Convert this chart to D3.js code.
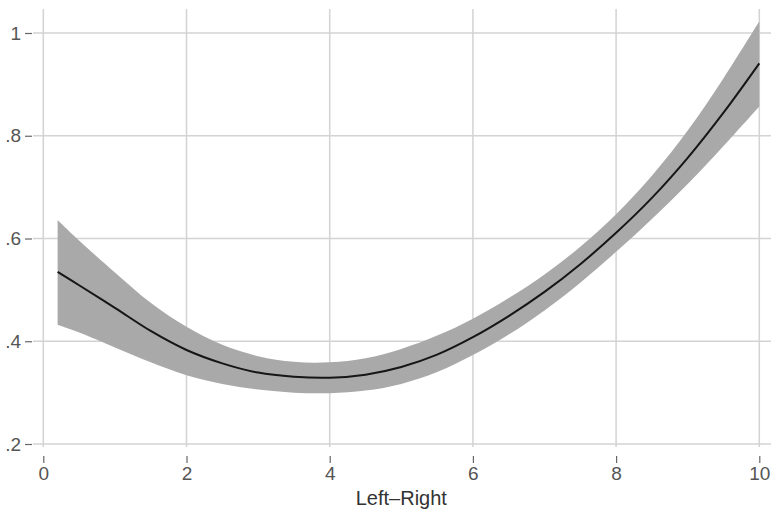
<!DOCTYPE html>
<html>
<head>
<meta charset="utf-8">
<script src="https://cdn.jsdelivr.net/npm/d3@7"></script>
<style>
  body { margin: 0; background: #fff; }
  svg { display: block; font-family: "Liberation Sans", Arial, sans-serif; }
  .tick text { fill: #555; }
</style>
</head>
<body>
<svg id="chart" width="771" height="510"></svg>
<script>
// values
var xs    = [0.2, 0.5, 1, 1.5, 2, 2.5, 3, 3.5, 4, 4.5, 5, 5.5, 6, 6.5, 7, 7.5, 8, 8.5, 9, 9.5, 10];
var fit   = [0.535, 0.509, 0.465, 0.420, 0.383, 0.357, 0.339, 0.331, 0.329, 0.335, 0.350, 0.374, 0.408, 0.449, 0.496, 0.550, 0.611, 0.679, 0.757, 0.845, 0.941];
var upper = [0.636, 0.596, 0.534, 0.475, 0.428, 0.393, 0.371, 0.360, 0.359, 0.367, 0.385, 0.411, 0.444, 0.484, 0.530, 0.584, 0.647, 0.722, 0.810, 0.912, 1.023];
var lower = [0.432, 0.417, 0.388, 0.359, 0.334, 0.317, 0.306, 0.300, 0.299, 0.304, 0.317, 0.340, 0.373, 0.413, 0.460, 0.514, 0.574, 0.638, 0.706, 0.780, 0.857];
var xTicks = [0, 2, 4, 6, 8, 10];
var yTicks = [0.2, 0.4, 0.6, 0.8, 1];
var yTickLabels = [".2", ".4", ".6", ".8", "1"];
var xTitle = "Left\u2013Right";

var svg = d3.select("#chart");

var x = d3.scaleLinear().domain([0, 10]).range([43.3, 759.3]);
var y = d3.scaleLinear().domain([0.2, 1]).range([444, 33]);

var rows = xs.map(function(d, i) {
    return {x: d, fit: fit[i], hi: upper[i], lo: lower[i]};
});

// grid
var grid = svg.append("g").attr("stroke", "#d3d3d3").attr("stroke-width", 1.5);

grid.selectAll(".hgrid")
    .data(yTicks)
    .enter().append("line")
    .attr("class", "hgrid")
    .attr("x1", 33).attr("x2", 771)
    .attr("y1", function(d) { return y(d); })
    .attr("y2", function(d) { return y(d); });

grid.selectAll(".vgrid")
    .data(xTicks)
    .enter().append("line")
    .attr("class", "vgrid")
    .attr("y1", 9).attr("y2", 447)
    .attr("x1", function(d) { return x(d); })
    .attr("x2", function(d) { return x(d); });

// confidence band
var area = d3.area()
    .curve(d3.curveCatmullRom.alpha(0.5))
    .x(function(d) { return x(d.x); })
    .y0(function(d) { return y(d.lo); })
    .y1(function(d) { return y(d.hi); });

svg.append("path")
    .datum(rows)
    .attr("fill", "#a9a9a9")
    .attr("d", area);

var line = d3.line()
    .curve(d3.curveCatmullRom.alpha(0.5))
    .x(function(d) { return x(d.x); })
    .y(function(d) { return y(d.fit); });

svg.append("path")
    .datum(rows)
    .attr("fill", "none")
    .attr("stroke", "#161616")
    .attr("stroke-width", 2)
    .attr("d", line);

// axes
var xAxis = svg.append("g")
    .attr("transform", "translate(0,456)")
    .call(d3.axisBottom(x).tickValues(xTicks).tickSize(7).tickPadding(4).tickFormat(d3.format("d")));
xAxis.select(".domain").remove();
xAxis.selectAll(".tick line").attr("stroke", "#666").attr("stroke-width", 1.2);
xAxis.selectAll(".tick text").style("font-size", "19px");

var yAxis = svg.append("g")
    .attr("transform", "translate(32,0)")
    .call(d3.axisLeft(y).tickValues(yTicks).tickSize(7).tickPadding(4)
        .tickFormat(function(d, i) { return yTickLabels[i]; }));
yAxis.select(".domain").remove();
yAxis.selectAll(".tick line").attr("stroke", "#666").attr("stroke-width", 1.2);
yAxis.selectAll(".tick text").style("font-size", "19px");

svg.append("text")
    .attr("x", x(5))
    .attr("y", 505)
    .attr("text-anchor", "middle")
    .attr("fill", "#333")
    .style("font-size", "20px")
    .text(xTitle);
</script>
</body>
</html>
